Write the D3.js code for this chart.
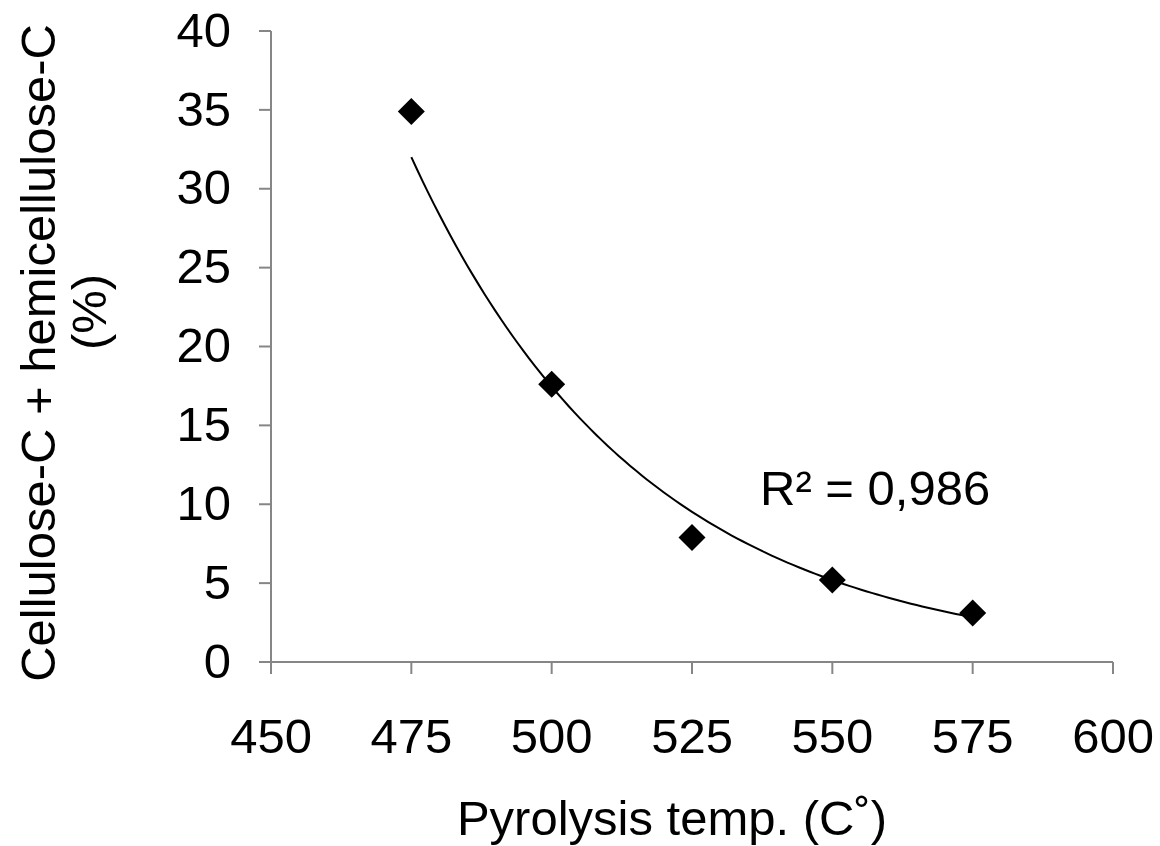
<!DOCTYPE html>
<html>
<head>
<meta charset="utf-8">
<script src="https://cdn.jsdelivr.net/npm/d3@7"></script>
<style>
  body { margin: 0; background: #fff; }
  text { font-family: "Liberation Sans", Arial, sans-serif; fill: #000; }
</style>
</head>
<body>
<div id="chart"></div>
<script>
// data
const temps = [475, 500, 525, 550, 575];
const cellulose = [34.9, 17.6, 7.9, 5.2, 3.1];
const xTicks = [450, 475, 500, 525, 550, 575, 600];
const yTicks = [0, 5, 10, 15, 20, 25, 30, 35, 40];
const r2Label = "R² = 0,986";

const width = 1160, height = 846;
const fontSize = 49;

const svg = d3.select("#chart")
  .append("svg")
    .attr("width", width)
    .attr("height", height);

const x = d3.scaleLinear().domain([450, 600]).range([271, 1113]);
const y = d3.scaleLinear().domain([0, 40]).range([662, 31]);

// Y axis
const yAxis = svg.append("g")
  .attr("transform", `translate(${x(450)},0)`)
  .call(d3.axisLeft(y).tickValues(yTicks).tickSize(12).tickPadding(28).tickSizeOuter(0).offset(0));

// X axis
const xAxis = svg.append("g")
  .attr("transform", `translate(0,${y(0)})`)
  .call(d3.axisBottom(x).tickValues(xTicks).tickSize(12).tickPadding(44).tickSizeOuter(0).offset(0));

[yAxis, xAxis].forEach(g => {
  g.selectAll("path, line").attr("stroke", "#868686").attr("stroke-width", 2);
  g.selectAll("text")
    .attr("fill", "#000")
    .style("font-size", fontSize + "px")
    .style("font-family", "'Liberation Sans', Arial, sans-serif");
});
yAxis.select("path").attr("d", `M0,${y(40)}V${y(0)}`);
xAxis.select("path").attr("d", `M${x(450)},0H${x(600)}`);

// exponential trendline, least squares on ln(y)
const n = temps.length;
const mx = d3.mean(temps);
const ly = cellulose.map(v => Math.log(v));
const my = d3.mean(ly);
const b = d3.sum(temps.map((t, i) => (t - mx) * (ly[i] - my))) / d3.sum(temps.map(t => (t - mx) ** 2));
const a = Math.exp(my - b * mx);
const fitX = d3.range(temps[0], temps[n - 1] + 0.01, 1);

svg.append("path")
  .datum(fitX)
  .attr("fill", "none")
  .attr("stroke", "#000")
  .attr("stroke-width", 2)
  .attr("d", d3.line().x(d => x(d)).y(d => y(a * Math.exp(b * d))));

// diamond markers
svg.selectAll(".pt")
  .data(temps.map((t, i) => ({t, v: cellulose[i]})))
  .join("path")
    .attr("class", "pt")
    .attr("transform", d => `translate(${x(d.t)},${y(d.v)})`)
    .attr("d", "M0,-13.5L13.5,0L0,13.5L-13.5,0Z")
    .attr("fill", "#000");

// R² label
svg.append("text")
  .attr("x", 760)
  .attr("y", 505)
  .style("font-size", fontSize + "px")
  .text(r2Label);

// X axis title
svg.append("text")
  .attr("x", 672)
  .attr("y", 835)
  .attr("text-anchor", "middle")
  .style("font-size", fontSize + "px")
  .text("Pyrolysis temp. (C˚)");

// Y axis title, two lines
svg.append("text")
  .attr("transform", "translate(55,353) rotate(-90)")
  .attr("text-anchor", "middle")
  .style("font-size", fontSize + "px")
  .text("Cellulose-C + hemicellulose-C");

svg.append("text")
  .attr("transform", "translate(106,312) rotate(-90)")
  .attr("text-anchor", "middle")
  .style("font-size", fontSize + "px")
  .text("(%)");
</script>
</body>
</html>
